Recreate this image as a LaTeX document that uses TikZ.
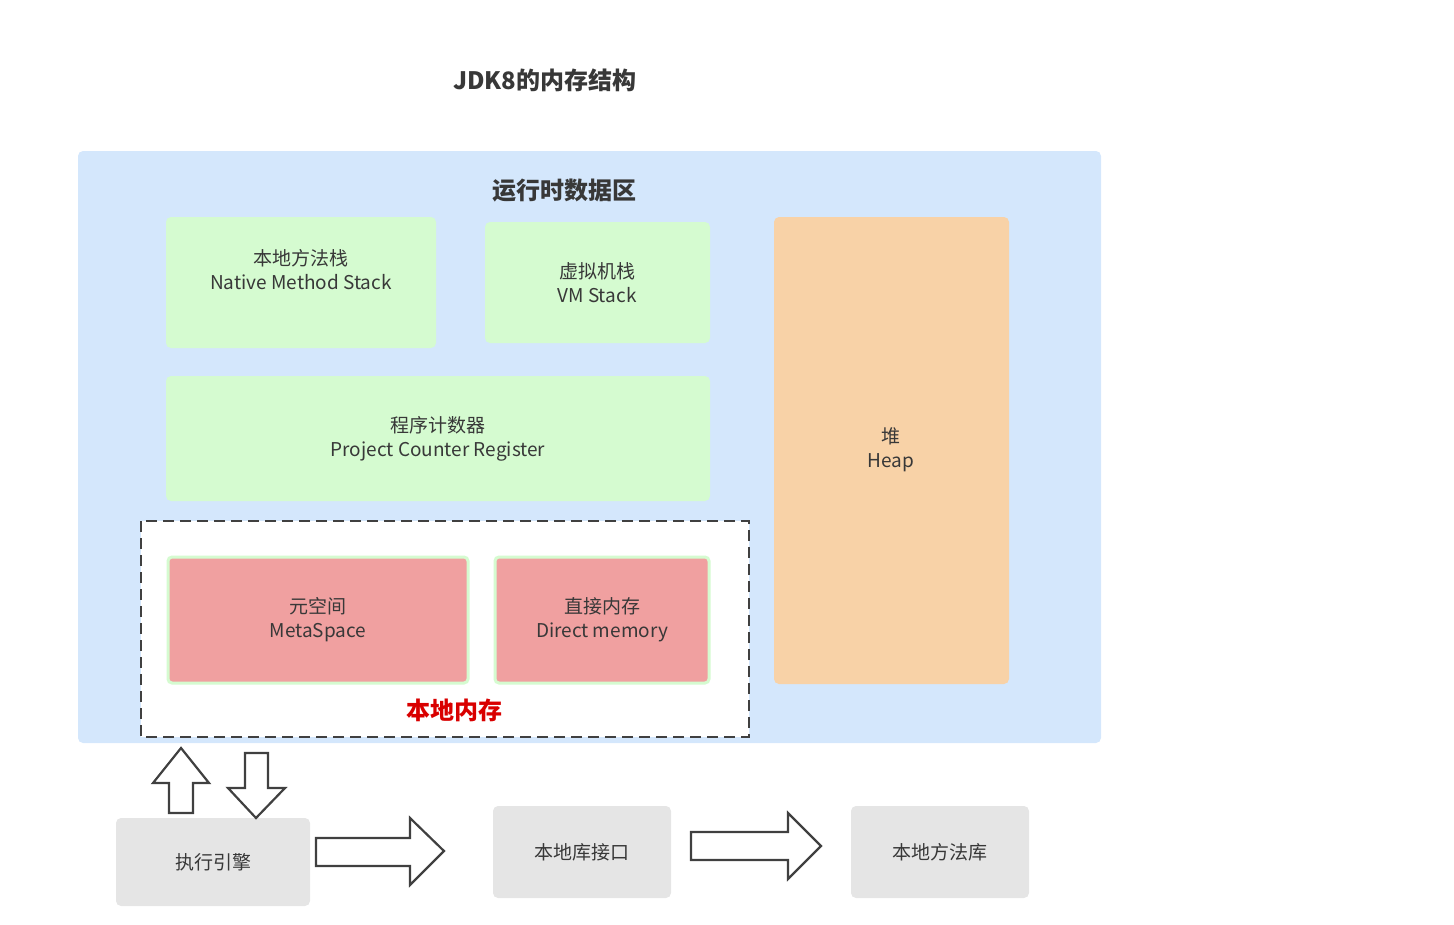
\documentclass[tikz,border=0pt]{standalone}
\usepackage{fontspec}
\setmainfont{Noto Sans CJK SC}
\begin{document}
\begin{tikzpicture}[x=1pt,y=-1pt,
 box/.style={rounded corners=5pt,draw=none},
 green/.style={box,fill=gfill},
 pink/.style={rounded corners=4pt,fill=pfill,draw=gfill,line width=3pt},
 grey/.style={box,fill=gray!20},
 lbl/.style={align=center,text=black!78,font=\fontsize{19}{24}\selectfont},
 barrow/.style={draw=black!75,line width=2.2pt,fill=white,line join=miter}]
\definecolor{gfill}{HTML}{D5FBD0}
\definecolor{pfill}{HTML}{F0A0A0}
\definecolor{bfill}{HTML}{D4E7FC}
\definecolor{hfill}{HTML}{F8D2A7}
\useasboundingbox (0,0) rectangle (1454,924);
\node[font=\bfseries\fontsize{24}{28}\selectfont,text=black!78] (title) at (545,80) {JDK8的内存结构};
\fill[bfill,rounded corners=5pt] (78,151) rectangle (1101,743);
\node[font=\bfseries\fontsize{24}{28}\selectfont,text=black!78] (rt) at (564,191) {运行时数据区};
\fill[green] (166,217) rectangle (436,348);
\node[lbl] (nms) at (301,270) {本地方法栈\\Native Method Stack};
\fill[green] (485,222) rectangle (710,343);
\node[lbl] (vm) at (597,283) {虚拟机栈\\VM Stack};
\fill[green] (166,376) rectangle (710,501);
\node[lbl] (pc) at (438,439) {程序计数器\\Project Counter Register};
\fill[box,fill=hfill] (774,217) rectangle (1009,684);
\node[lbl] (heap) at (891,450) {堆\\Heap};
\draw[fill=white,draw=black!75,line width=2.2pt,dash pattern=on 11pt off 6pt] (141,521) rectangle (749,737);
\draw[pink] (168,557) rectangle (468,683);
\node[lbl] (meta) at (318,620) {元空间\\MetaSpace};
\draw[pink] (495,557) rectangle (709,683);
\node[lbl] (dm) at (602,620) {直接内存\\Direct memory};
\node[font=\bfseries\fontsize{24}{28}\selectfont,text=red!85!black] (local) at (454,710) {本地内存};
\fill[grey] (116,818) rectangle (310,906);
\node[lbl] (exe) at (213,862) {执行引擎};
\fill[grey] (493,806) rectangle (671,898);
\node[lbl] (lib) at (582,852) {本地库接口};
\fill[grey] (851,806) rectangle (1029,898);
\node[lbl] (nml) at (940,852) {本地方法库};
% block arrows
\draw[barrow] (181,748) -- (209,783) -- (193,783) -- (193,813) -- (169,813) -- (169,783) -- (153,783) -- cycle;
\draw[barrow] (256,818) -- (285,788) -- (268,788) -- (268,753) -- (245,753) -- (245,788) -- (228,788) -- cycle;
\draw[barrow] (444,851) -- (410,818) -- (410,838) -- (316,838) -- (316,866) -- (410,866) -- (410,885) -- cycle;
\draw[barrow] (821,846) -- (788,813) -- (788,832) -- (691,832) -- (691,860) -- (788,860) -- (788,879) -- cycle;
\end{tikzpicture}
\end{document}
